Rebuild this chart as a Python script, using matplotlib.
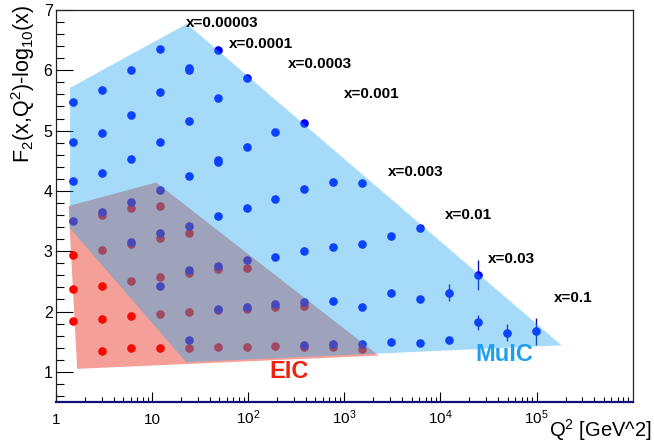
import matplotlib
matplotlib.use('Agg')
import matplotlib.pyplot as plt
from matplotlib.patches import Polygon
from matplotlib.ticker import FixedLocator, MultipleLocator, NullFormatter

plt.rcParams['font.family'] = ['Liberation Sans', 'DejaVu Sans']
plt.rcParams['mathtext.fontset'] = 'custom'
plt.rcParams['mathtext.rm'] = 'Liberation Sans'
plt.rcParams['mathtext.it'] = 'Liberation Sans:italic'
plt.rcParams['mathtext.bf'] = 'Liberation Sans:bold'

# ---------------- data ----------------
# MuIC pseudo-data: Q^2 [GeV^2], F2 - log10(x), stat. error
muic_q2 = [1.5, 1.5, 1.5, 1.5,
           3, 3, 3, 3,
           6, 6, 6, 6, 6,
           12, 12, 12, 12, 12, 12,
           24, 24, 24, 24, 24, 24, 24,
           48, 48, 48, 48, 48, 48, 48,
           96, 96, 96, 96, 96,
           192, 192, 192, 192,
           384, 384, 384, 384, 384,
           768, 768, 768, 768,
           1536, 1536, 1536, 1536,
           3072, 3072, 3072,
           6144, 6144, 6144,
           12288, 12288,
           24576, 24576,
           49152,
           98304]
muic_val = [5.48, 4.81, 4.17, 3.50,
            5.68, 4.96, 4.30, 3.65,
            6.01, 5.26, 4.53, 3.82, 3.16,
            6.35, 5.64, 4.81, 4.02, 3.30, 2.42,
            6.04, 6.01, 5.16, 4.25, 3.42, 2.69, 1.52,
            6.33, 5.54, 4.51, 4.48, 3.58, 2.76, 2.05,
            5.87, 4.73, 3.71, 2.85, 2.07,
            4.98, 3.87, 2.90, 2.12,
            5.13, 4.03, 3.00, 2.15, 1.45,
            4.15, 3.07, 2.17, 1.46,
            4.13, 3.12, 2.08, 1.46,
            3.26, 2.30, 1.50,
            3.38, 2.20, 1.48,
            2.31, 1.52,
            2.60, 1.82,
            1.65,
            1.67]
muic_err = [0.0] * 61 + [0.14, 0.0, 0.25, 0.12, 0.14, 0.23]

# EIC pseudo-data
eic_q2 = [1.5, 1.5, 1.5,
          3, 3, 3, 3, 3,
          6, 6, 6, 6, 6,
          12, 12, 12, 12, 12,
          24, 24, 24, 24,
          48, 48, 48,
          96, 96, 96,
          192, 192,
          384, 384,
          768,
          1536]
eic_val = [2.93, 2.37, 1.85,
           3.60, 3.02, 2.43, 1.88, 1.35,
           3.72, 3.12, 2.50, 1.93, 1.39,
           3.75, 3.22, 2.57, 1.96, 1.40,
           3.30, 2.64, 2.00, 1.40,
           2.70, 2.02, 1.41,
           2.72, 2.05, 1.42,
           2.07, 1.43,
           2.09, 1.42,
           1.42,
           1.38]

# kinematic coverage regions
muic_region_q2 = [1.40, 23.0, 1.82e5, 22.6, 1.40]
muic_region_val = [5.71, 6.77, 1.44, 1.16, 3.38]
eic_region_q2 = [1.35, 11.0, 2280.0, 1.66]
eic_region_val = [3.75, 4.14, 1.27, 1.05]

# x-bin labels
xbin_labels = ["x=0.00003", "x=0.0001", "x=0.0003", "x=0.001",
               "x=0.003", "x=0.01", "x=0.03", "x=0.1"]
xbin_label_q2 = [22.4, 63, 257, 1000, 2850, 11100, 31400, 151000]
xbin_label_val = [6.78, 6.44, 6.11, 5.61, 4.32, 3.60, 2.87, 2.22]

xtick_vals = [1, 10, 1e2, 1e3, 1e4, 1e5]
xtick_labels = ['1', '10', r'$\mathregular{10^{2}}$', r'$\mathregular{10^{3}}$',
                r'$\mathregular{10^{4}}$', r'$\mathregular{10^{5}}$']

# ---------------- figure ----------------
fig = plt.figure(figsize=(6.54, 4.44), dpi=100)
ax = fig.add_axes([56 / 654, 42 / 444, 576.7 / 654, 392 / 444])
ax.set_xscale('log')
ax.set_xlim(1, 1e6)
ax.set_ylim(0.5, 7)

# points first (overlays drawn on top with transparency)
ax.plot(eic_q2, eic_val, 'o', color=(1, 0, 0), ms=6.2, mew=0, zorder=2)
ax.errorbar(muic_q2, muic_val, yerr=muic_err, fmt='o', color=(0, 0, 1), ms=6.2,
            mew=0, ecolor='#1010a0', elinewidth=1.0, capsize=0, zorder=2.5)

ax.add_patch(Polygon(list(zip(eic_region_q2, eic_region_val)), closed=True,
                     facecolor=(0.90, 0.11, 0.03), alpha=0.42, edgecolor='none', zorder=3))
ax.add_patch(Polygon(list(zip(muic_region_q2, muic_region_val)), closed=True,
                     facecolor=(0.125, 0.655, 0.95), alpha=0.40, edgecolor='none', zorder=4))

for lab, q, v in zip(xbin_labels, xbin_label_q2, xbin_label_val):
    ax.text(q, v, lab, fontsize=11, fontweight='bold', ha='left', va='center',
            color='black', zorder=6)

ax.text(165, 1.0, 'EIC', fontsize=17, fontweight='bold', color='#f0200f',
        ha='left', va='center', zorder=6)
ax.text(23000, 1.29, 'MuIC', fontsize=17, fontweight='bold', color='#1ea0f0',
        ha='left', va='center', zorder=6)

# axes styling
ax.xaxis.set_major_locator(FixedLocator(xtick_vals))
ax.set_xticklabels(xtick_labels)
ax.xaxis.set_minor_locator(FixedLocator(
    [m * 10 ** d for d in range(6) for m in range(2, 10)]))
ax.xaxis.set_minor_formatter(NullFormatter())
ax.yaxis.set_major_locator(FixedLocator([1, 2, 3, 4, 5, 6, 7]))
ax.yaxis.set_minor_locator(MultipleLocator(0.2))

ax.tick_params(axis='x', which='major', direction='in', length=7.2, width=0.8,
               pad=15.8, labelsize=11, top=False)
ax.tick_params(axis='x', which='minor', direction='in', length=3.6, width=0.8, top=False)
ax.tick_params(axis='y', which='major', direction='in', length=12, width=0.8,
               pad=2.5, labelsize=11.5, right=False)
ax.tick_params(axis='y', which='minor', direction='in', length=6, width=0.8, right=False)
plt.setp(ax.get_xticklabels(), va='baseline')

for s in ['top', 'right', 'left']:
    ax.spines[s].set_linewidth(0.9)
    ax.spines[s].set_color('#222222')
ax.spines['bottom'].set_color('#10107a')
ax.spines['bottom'].set_linewidth(1.6)

ax.set_ylabel(r'F$_{2}$(x,Q$^{2}$)-log$_{10}$(x)', fontsize=15.5, va='center')
ax.yaxis.set_label_coords(-33 / 576.7, (402 - 84) / 392)
ax.set_xlabel(r'Q$^{2}$ [GeV^2]', fontsize=14.5, ha='right', va='center')
ax.xaxis.set_label_coords(652 / 576.7 - 56 / 576.7, -28 / 392)

fig.savefig('out.png', dpi=100)
